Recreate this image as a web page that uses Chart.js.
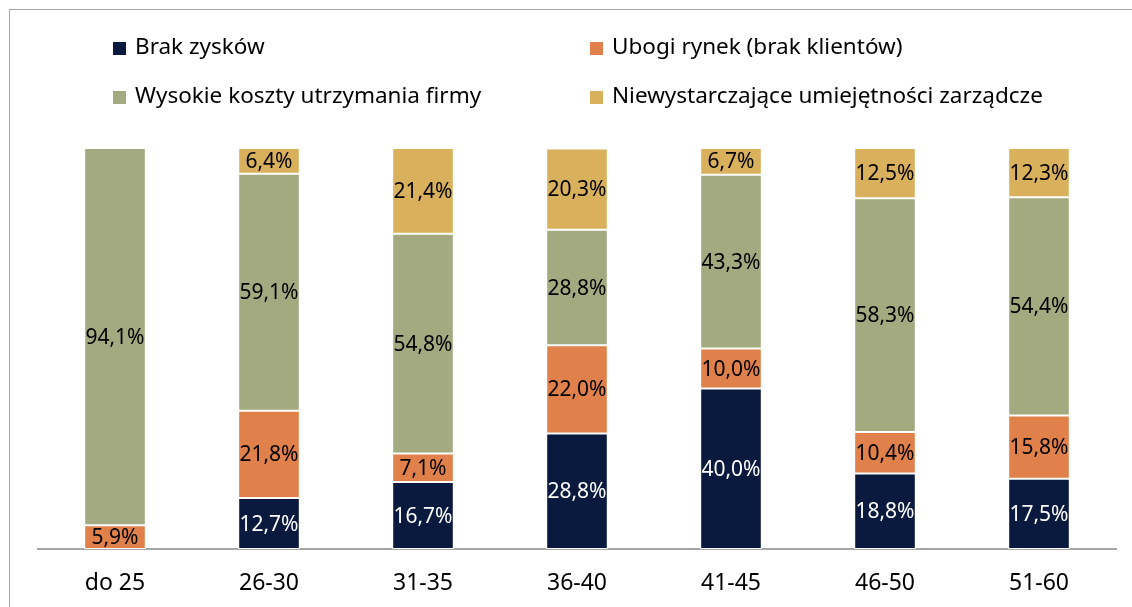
<!DOCTYPE html>
<html>
<head>
<meta charset="utf-8">
<script src="https://cdn.jsdelivr.net/npm/chart.js@4.4.1/dist/chart.umd.min.js"></script>
<style>
    html, body { margin: 0; padding: 0; background: #fff; }
    #wrap { position: relative; width: 1132px; height: 607px; overflow: hidden; }
    #frame { position: absolute; left: 9px; top: 9px; width: 1200px; height: 700px;
             border-left: 1px solid #a6a6a6; border-top: 1px solid #a6a6a6; }
    canvas { position: absolute; left: 0; top: 0; }
</style>
</head>
<body>
<div id="wrap">
    <div id="frame"></div>
    <canvas id="chart" width="1132" height="607"></canvas>
</div>
<script>
// Age groups and shares (%)
const categories = ['do 25', '26-30', '31-35', '36-40', '41-45', '46-50', '51-60'];
const brakZyskow = [0, 12.7, 16.7, 28.8, 40.0, 18.8, 17.5];
const ubogiRynek = [5.9, 21.8, 7.1, 22.0, 10.0, 10.4, 15.8];
const wysokieKoszty = [94.1, 59.1, 54.8, 28.8, 43.3, 58.3, 54.4];
const niewystarczajace = [0, 6.4, 21.4, 20.3, 6.7, 12.5, 12.3];

const seriesNames = [
    'Brak zysków',
    'Ubogi rynek (brak klientów)',
    'Wysokie koszty utrzymania firmy',
    'Niewystarczające umiejętności zarządcze'
];
const colors = ['#0a1a3e', '#e0804a', '#a3aa80', '#d9b15c'];
const labelColors = ['#ffffff', '#000000', '#000000', '#000000'];

const FONT = '"Noto Sans", sans-serif';

// Values inside the segments
const valueLabels = {
    id: 'valueLabels',
    afterDatasetsDraw(chart) {
        const ctx = chart.ctx;
        ctx.save();
        ctx.font = '21px ' + FONT;
        ctx.textAlign = 'center';
        ctx.textBaseline = 'middle';
        chart.data.datasets.forEach((ds, i) => {
            const meta = chart.getDatasetMeta(i);
            meta.data.forEach((bar, j) => {
                const v = ds.data[j];
                if (!v) return;
                const { x, y, base } = bar.getProps(['x', 'y', 'base'], true);
                ctx.fillStyle = labelColors[i];
                ctx.fillText(v.toFixed(1).replace('.', ',') + '%', x, (y + base) / 2 + 1);
            });
        });
        ctx.restore();
    }
};

// Two-column legend at the top
const gridLegend = {
    id: 'gridLegend',
    afterDraw(chart) {
        const ctx = chart.ctx;
        const cols = [113, 590];
        const rows = [48, 97];
        ctx.save();
        ctx.font = '22.5px ' + FONT;
        ctx.textBaseline = 'middle';
        chart.data.datasets.forEach((ds, i) => {
            const x = cols[i % 2];
            const y = rows[Math.floor(i / 2)];
            ctx.fillStyle = ds.backgroundColor;
            ctx.fillRect(x, y - 6, 13, 13);
            ctx.fillStyle = '#000';
            ctx.fillText(ds.label, x + 22, y);
        });
        ctx.restore();
    }
};

const values = [brakZyskow, ubogiRynek, wysokieKoszty, niewystarczajace];

new Chart(document.getElementById('chart'), {
    type: 'bar',
    data: {
        labels: categories,
        datasets: values.map((d, i) => ({
            label: seriesNames[i],
            data: d,
            backgroundColor: colors[i],
            borderColor: '#ffffff',
            borderWidth: 1,
            borderSkipped: false,
            categoryPercentage: 1,
            barPercentage: 0.4
        }))
    },
    options: {
        responsive: false,
        animation: false,
        layout: { padding: { top: 148, left: 38, right: 16, bottom: 0 } },
        plugins: {
            legend: { display: false },
            tooltip: { enabled: false }
        },
        scales: {
            x: {
                stacked: true,
                grid: { display: false },
                border: { color: '#a6a6a6', width: 2 },
                ticks: {
                    color: '#000',
                    font: { family: FONT, size: 23 },
                    padding: 13
                },
                afterFit(scale) { scale.height = 58; }
            },
            y: {
                stacked: true,
                display: false,
                min: 0,
                max: 100
            }
        }
    },
    plugins: [valueLabels, gridLegend]
});
</script>
</body>
</html>
